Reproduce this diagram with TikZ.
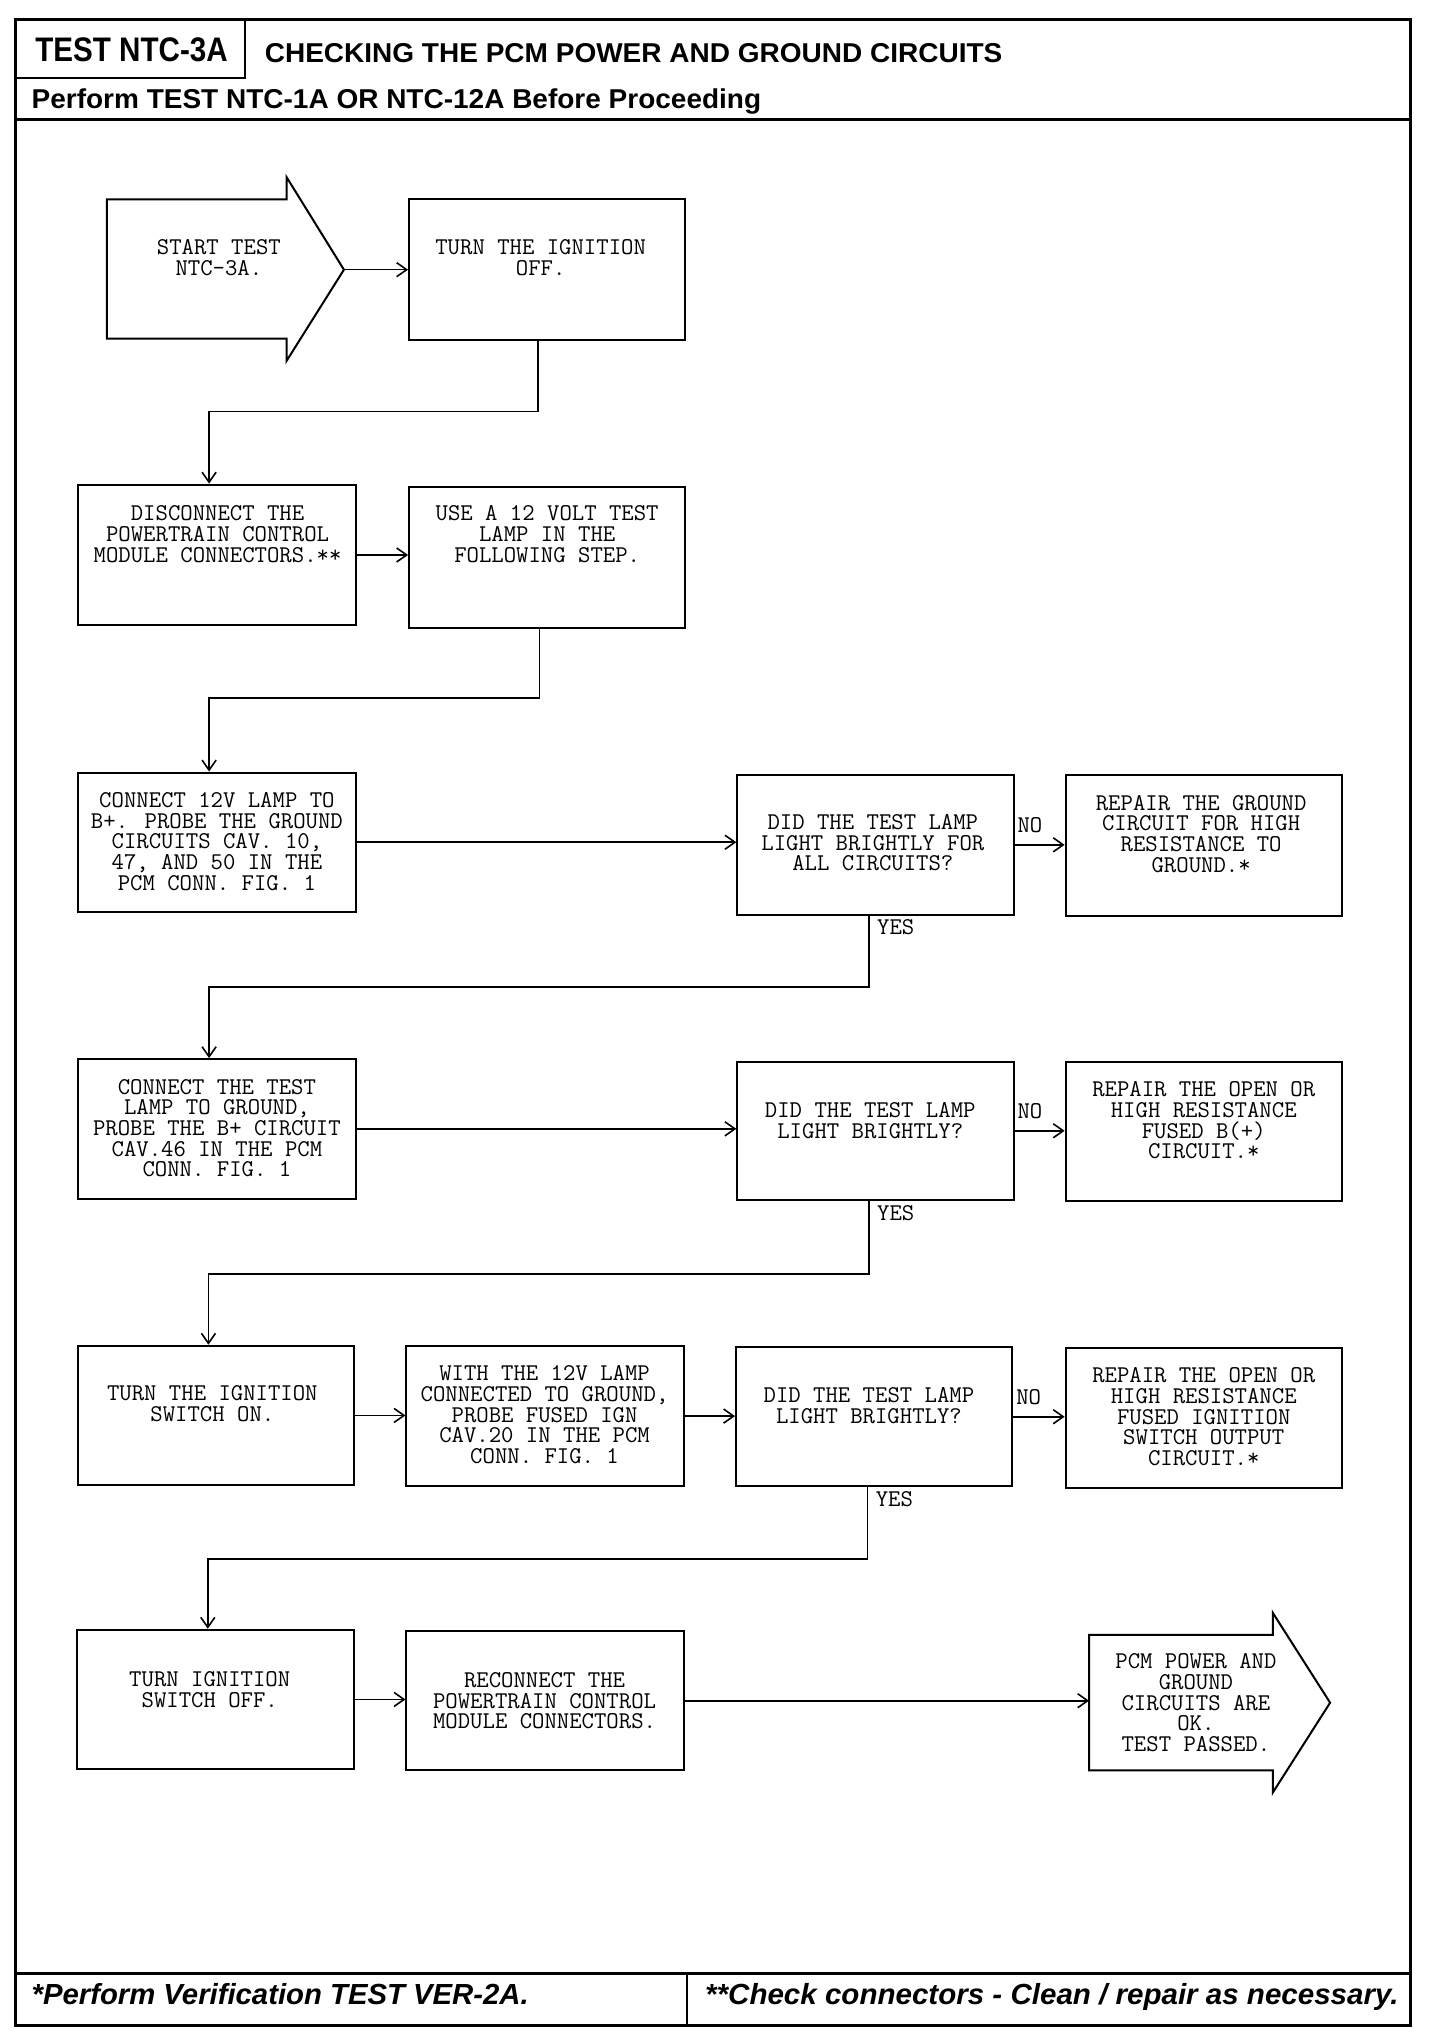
\documentclass[tikz,border=0pt]{standalone}
\usepackage{fontspec}
\usepackage{graphicx}
\setmainfont{Liberation Sans}
\usetikzlibrary{arrows.meta,calc}
\begin{document}
\begin{tikzpicture}[x=0.65pt,y=-0.65pt,
  every node/.style={inner sep=0pt},
  box/.style={draw, line width=1pt, minimum width=213*0.65pt, minimum height=107*0.65pt},
  txt/.style={font=\ttfamily\fontsize{12}{10.3}\selectfont, align=center},
  lbl/.style={font=\ttfamily\fontsize{12}{12}\selectfont},
  conn/.style={line width=0.8pt, -{Straight Barb[length=5pt,width=7pt,line width=0.8pt]}},
  plainline/.style={line width=1pt},
  frame/.style={line width=1.4pt},
  bigarrow/.style={draw, line width=1pt, line join=miter}]
\fill[white] (0,0) rectangle (1117,1569);
\useasboundingbox (0,0) rectangle (1117,1569);

% frame and header
\draw[frame] (12,15) rectangle (1083,1555);
\draw[frame] (12,92) -- (1083,92);
\draw[plainline] (188,15) -- (188,60) -- (12,60);
\draw[frame] (12,1515) -- (1083,1515);
\draw[plainline] (527,1515) -- (527,1555);

\node[anchor=base] (testid) at (101,47) {\fontsize{17}{18}\selectfont\bfseries\resizebox{96pt}{\height}{TEST NTC-3A}};
\node[anchor=base west] (title) at (203,48) {\fontsize{13.6}{14}\selectfont\bfseries\resizebox{368pt}{\height}{CHECKING THE PCM POWER AND GROUND CIRCUITS}};
\node[anchor=base west] (perform) at (24,83) {\fontsize{13.6}{14}\selectfont\bfseries\resizebox{364pt}{\height}{Perform TEST NTC-1A OR NTC-12A Before Proceeding}};
\node[anchor=base west] (foot1) at (24,1539) {\fontsize{14.5}{15}\selectfont\bfseries\itshape\resizebox{248pt}{\height}{*Perform Verification TEST VER-2A.}};
\node[anchor=base west] (foot2) at (541,1539) {\fontsize{14.5}{15}\selectfont\bfseries\itshape\resizebox{346pt}{\height}{**Check connectors - Clean / repair as necessary.}};

% start arrow
\draw[bigarrow] (82,153) -- (220,153) -- (220,136) -- (264,207) -- (220,277) -- (220,260) -- (82,260) -- cycle;
\coordinate (starttip) at (264,207);
\node[txt] (startT) at (168,198) {START TEST\\NTC-3A.};

% final arrow
\draw[bigarrow] (836,1255) -- (977,1255) -- (977,1238) -- (1021,1307) -- (977,1376) -- (977,1359) -- (836,1359) -- cycle;
\coordinate (finalin) at (836,1307);
\node[txt] (finalT) at (918,1307) {PCM POWER AND\\GROUND\\CIRCUITS ARE\\OK.\\TEST PASSED.};

% boxes
\node[box, minimum width=212*0.65pt, minimum height=108*0.65pt] (turn) at (420,207) {};
\node[box, minimum height=108*0.65pt] (disc) at (166.5,426) {};
\node[box, minimum width=212*0.65pt, minimum height=108*0.65pt] (use) at (420,428) {};
\node[box] (conn12) at (166.5,646.5) {};
\node[box, minimum width=212*0.65pt] (did1) at (672,648.5) {};
\node[box, minimum width=212*0.65pt, minimum height=108*0.65pt] (rep1) at (924,649) {};
\node[box] (ct) at (166.5,866.5) {};
\node[box, minimum width=212*0.65pt, minimum height=106*0.65pt] (did2) at (672,868) {};
\node[box, minimum width=212*0.65pt] (rep2) at (924,868.5) {};
\node[box, minimum width=212*0.65pt] (ton) at (166,1086.5) {};
\node[box, minimum height=108*0.65pt] (with) at (418.5,1087) {};
\node[box, minimum width=212*0.65pt] (did3) at (671,1087.5) {};
\node[box, minimum width=212*0.65pt] (rep3) at (924,1088.5) {};
\node[box] (toff) at (165.5,1304.5) {};
\node[box] (recon) at (418.5,1305.5) {};

% box texts
\node[txt] (turnT) at (415,198) {TURN THE IGNITION\\OFF.};
\node[txt] (discT) at (167,410) {DISCONNECT THE\\POWERTRAIN CONTROL\\MODULE CONNECTORS.**};
\node[txt] (useT) at (420,410) {USE A 12 VOLT TEST\\LAMP IN THE\\FOLLOWING STEP.};
\node[txt] (conn12T) at (166.5,646) {CONNECT 12V LAMP TO\\B+. PROBE THE GROUND\\CIRCUITS CAV. 10,\\47, AND 50 IN THE\\PCM CONN. FIG. 1};
\node[txt] (did1T) at (670,647) {DID THE TEST LAMP\\LIGHT BRIGHTLY FOR\\ALL CIRCUITS?};
\node[txt] (rep1T) at (922,640) {REPAIR THE GROUND\\CIRCUIT FOR HIGH\\RESISTANCE TO\\GROUND.*};
\node[txt] (ctT) at (166.5,866) {CONNECT THE TEST\\LAMP TO GROUND,\\PROBE THE B+ CIRCUIT\\CAV.46 IN THE PCM\\CONN. FIG. 1};
\node[txt] (did2T) at (668,860) {DID THE TEST LAMP\\LIGHT BRIGHTLY?};
\node[txt] (rep2T) at (924,860) {REPAIR THE OPEN OR\\HIGH RESISTANCE\\FUSED B(+)\\CIRCUIT.*};
\node[txt] (tonT) at (163,1077.5) {TURN THE IGNITION\\SWITCH ON.};
\node[txt] (withT) at (418,1086) {WITH THE 12V LAMP\\CONNECTED TO GROUND,\\PROBE FUSED IGN\\CAV.20 IN THE PCM\\CONN. FIG. 1};
\node[txt] (did3T) at (667,1079) {DID THE TEST LAMP\\LIGHT BRIGHTLY?};
\node[txt] (rep3T) at (924,1087.5) {REPAIR THE OPEN OR\\HIGH RESISTANCE\\FUSED IGNITION\\SWITCH OUTPUT\\CIRCUIT.*};
\node[txt] (toffT) at (161,1297) {TURN IGNITION\\SWITCH OFF.};
\node[txt] (reconT) at (418,1305.5) {RECONNECT THE\\POWERTRAIN CONTROL\\MODULE CONNECTORS.};

% connectors
\draw[conn] (starttip) -- (turn.west);
\draw[conn] ($(turn.south)+(-7,0)$) -- ++(0,54) -| ($(disc.north)+(-6,0)$);
\draw[conn] (disc.east) -- (disc.east -| use.west);
\draw[conn] ($(use.south)+(-6,0)$) -- ++(0,53) -| ($(conn12.north)+(-6,0)$);
\draw[conn] (conn12.east) -- (conn12.east -| did1.west);
\draw[conn] (did1.east) -- (did1.east -| rep1.west);
\draw[conn] ($(did1.south)+(-5,0)$) -- ++(0,55) -| ($(ct.north)+(-6,0)$);
\draw[conn] (ct.east) -- (ct.east -| did2.west);
\draw[conn] (did2.east) -- (did2.east -| rep2.west);
\draw[conn] ($(did2.south)+(-5,0)$) -- ++(0,56) -| ($(ton.north)+(-6,0)$);
\draw[conn] (ton.east) -- (ton.east -| with.west);
\draw[conn] (with.east) -- (with.east -| did3.west);
\draw[conn] (did3.east) -- (did3.east -| rep3.west);
\draw[conn] ($(did3.south)+(-5,0)$) -- ++(0,55) -| ($(toff.north)+(-6,0)$);
\draw[conn] (toff.east) -- (toff.east -| recon.west);
\draw[conn] (recon.east) -- (recon.east -| finalin);

% labels
\node[lbl, anchor=west] (no1) at ($(did1.east)+(2,-15)$) {NO};
\node[lbl, anchor=west] (no2) at ($(did2.east)+(2,-15)$) {NO};
\node[lbl, anchor=west] (no3) at ($(did3.east)+(2,-15)$) {NO};
\node[lbl, anchor=north west] (yes1) at ($(did1.south)+(1,3)$) {YES};
\node[lbl, anchor=north west] (yes2) at ($(did2.south)+(1,3)$) {YES};
\node[lbl, anchor=north west] (yes3) at ($(did3.south)+(1,3)$) {YES};
\end{tikzpicture}
\end{document}
